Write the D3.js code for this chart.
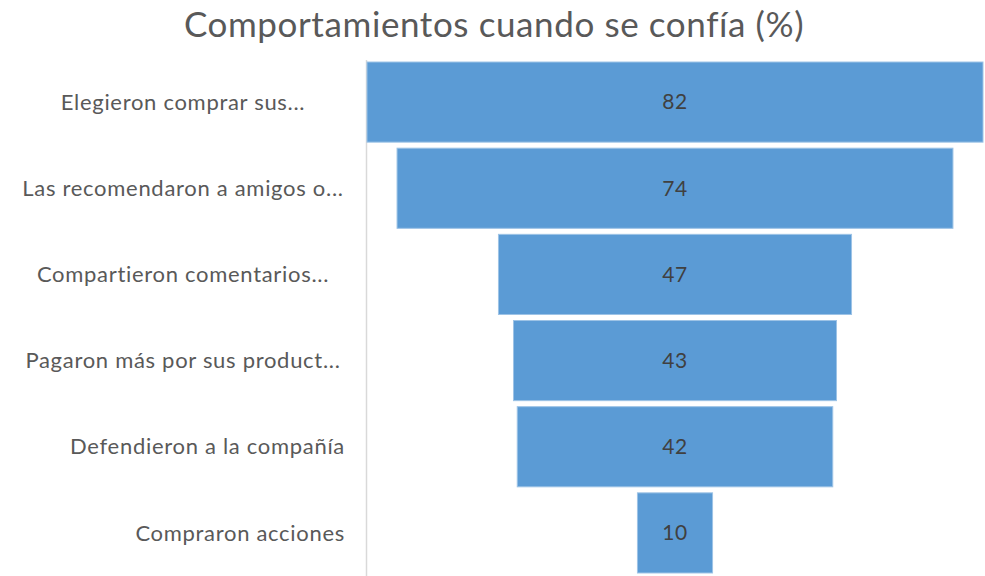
<!DOCTYPE html>
<html>
<head>
<meta charset="utf-8">
<script src="https://cdn.jsdelivr.net/npm/d3@7"></script>
<style>
  body { margin: 0; background: #fff; }
  text { font-family: Lato, "Open Sans", sans-serif; }
</style>
</head>
<body>
<svg id="chart" width="985" height="576"></svg>
<script>
// datos del embudo
var categories = [
    "Elegieron comprar sus...",
    "Las recomendaron a amigos o...",
    "Compartieron comentarios...",
    "Pagaron más por sus product...",
    "Defendieron a la compañía",
    "Compraron acciones"
];
var values = [82, 74, 47, 43, 42, 10];
var title = "Comportamientos cuando se confía (%)";

var svg = d3.select("#chart");

var x = d3.scaleLinear()
    .domain([-41, 41])
    .range([367, 983]);

var y = d3.scaleBand()
    .domain(categories)
    .range([59, 576])
    .paddingInner(0.07)
    .paddingOuter(0.035);

svg.append("text")
    .attr("x", 494)
    .attr("y", 37)
    .attr("text-anchor", "middle")
    .attr("font-size", 35)
    .attr("letter-spacing", 0.6)
    .attr("fill", "#595959")
    .text(title);

// eje vertical
svg.append("line")
    .attr("x1", 366.5).attr("x2", 366.5)
    .attr("y1", 60).attr("y2", 576)
    .attr("stroke", "#d9d9d9")
    .attr("stroke-width", 1.5);

var rows = svg.selectAll("g.row")
    .data(categories)
    .enter().append("g")
    .attr("class", "row");

rows.append("rect")
    .attr("x", function(d, i){ return x(-values[i]/2); })
    .attr("y", function(d){ return y(d); })
    .attr("width", function(d, i){ return x(values[i]/2) - x(-values[i]/2); })
    .attr("height", y.bandwidth())
    .attr("fill", "#5b9bd5")
    .attr("stroke", "#9dc3e6")
    .attr("stroke-width", 1);

rows.append("text")
    .attr("x", x(0))
    .attr("y", function(d){ return y(d) + y.bandwidth()/2; })
    .attr("dy", "0.35em")
    .attr("text-anchor", "middle")
    .attr("font-size", 21)
    .attr("letter-spacing", 0.5)
    .attr("fill", "#404040")
    .text(function(d, i){ return values[i]; });

// etiquetas: las truncadas van centradas, las otras alineadas a la derecha
rows.append("text")
    .attr("x", function(d){ return d.indexOf("...") > 0 ? 183 : 345; })
    .attr("y", function(d){ return y(d) + y.bandwidth()/2; })
    .attr("dy", "0.35em")
    .attr("text-anchor", function(d){ return d.indexOf("...") > 0 ? "middle" : "end"; })
    .attr("font-size", 22)
    .attr("letter-spacing", 0.7)
    .attr("fill", "#595959")
    .text(function(d){ return d; });
</script>
</body>
</html>
